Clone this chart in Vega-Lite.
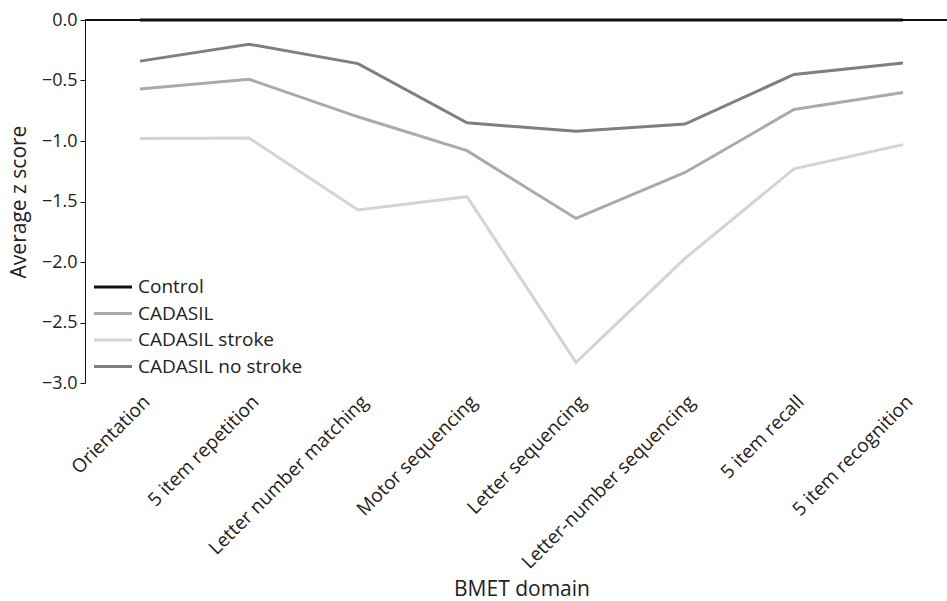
{
  "$schema": "https://vega.github.io/schema/vega-lite/v6.json",
  "width": 862,
  "height": 363,
  "autosize": {"type": "none"},
  "padding": {"left": 85, "top": 20, "right": 0, "bottom": 218},
  "background": "white",
  "config": {
    "view": {"stroke": null},
    "font": "Open Sans",
    "axis": {"labelFont": "Open Sans", "titleFont": "Open Sans", "labelColor": "#222", "titleColor": "#222", "titleFontWeight": "normal", "grid": false}
  },
  "data": {
    "values": [
      {"domain": "Orientation", "group": "Control", "z": 0},
      {"domain": "5 item repetition", "group": "Control", "z": 0},
      {"domain": "Letter number matching", "group": "Control", "z": 0},
      {"domain": "Motor sequencing", "group": "Control", "z": 0},
      {"domain": "Letter sequencing", "group": "Control", "z": 0},
      {"domain": "Letter-number sequencing", "group": "Control", "z": 0},
      {"domain": "5 item recall", "group": "Control", "z": 0},
      {"domain": "5 item recognition", "group": "Control", "z": 0},
      {"domain": "Orientation", "group": "CADASIL", "z": -0.57},
      {"domain": "5 item repetition", "group": "CADASIL", "z": -0.49},
      {"domain": "Letter number matching", "group": "CADASIL", "z": -0.8},
      {"domain": "Motor sequencing", "group": "CADASIL", "z": -1.08},
      {"domain": "Letter sequencing", "group": "CADASIL", "z": -1.64},
      {"domain": "Letter-number sequencing", "group": "CADASIL", "z": -1.26},
      {"domain": "5 item recall", "group": "CADASIL", "z": -0.74},
      {"domain": "5 item recognition", "group": "CADASIL", "z": -0.6},
      {"domain": "Orientation", "group": "CADASIL stroke", "z": -0.98},
      {"domain": "5 item repetition", "group": "CADASIL stroke", "z": -0.975},
      {"domain": "Letter number matching", "group": "CADASIL stroke", "z": -1.57},
      {"domain": "Motor sequencing", "group": "CADASIL stroke", "z": -1.46},
      {"domain": "Letter sequencing", "group": "CADASIL stroke", "z": -2.83},
      {"domain": "Letter-number sequencing", "group": "CADASIL stroke", "z": -1.97},
      {"domain": "5 item recall", "group": "CADASIL stroke", "z": -1.23},
      {"domain": "5 item recognition", "group": "CADASIL stroke", "z": -1.03},
      {"domain": "Orientation", "group": "CADASIL no stroke", "z": -0.34},
      {"domain": "5 item repetition", "group": "CADASIL no stroke", "z": -0.2},
      {"domain": "Letter number matching", "group": "CADASIL no stroke", "z": -0.36},
      {"domain": "Motor sequencing", "group": "CADASIL no stroke", "z": -0.85},
      {"domain": "Letter sequencing", "group": "CADASIL no stroke", "z": -0.92},
      {"domain": "Letter-number sequencing", "group": "CADASIL no stroke", "z": -0.86},
      {"domain": "5 item recall", "group": "CADASIL no stroke", "z": -0.45},
      {"domain": "5 item recognition", "group": "CADASIL no stroke", "z": -0.355}
    ]
  },
  "layer": [
    {
      "mark": {"type": "rule", "color": "#111", "strokeWidth": 1.5},
      "encoding": {"y": {"datum": 0, "type": "quantitative"}}
    },
    {
      "mark": {"type": "line", "strokeWidth": 3},
      "encoding": {
        "x": {
          "field": "domain", "type": "ordinal", "sort": null,
          "scale": {"type": "point", "range": [55, 818], "padding": 0},
          "axis": {"title": "BMET domain", "orient": "bottom", "domain": false, "ticks": false, "labelAngle": -45, "labelFontSize": 19, "labelLimit": 400, "labelPadding": 9, "titleFontSize": 21, "titlePadding": 6}
        },
        "y": {
          "field": "z", "type": "quantitative",
          "scale": {"domain": [-3, 0], "nice": false, "zero": false},
          "axis": {"title": "Average z score", "values": [0, -0.5, -1, -1.5, -2, -2.5, -3], "format": ".1f", "labelFontSize": 18, "titleFontSize": 21, "domainColor": "#111", "tickColor": "#111", "tickSize": 5, "labelPadding": 3, "titlePadding": 12}
        },
        "color": {
          "field": "group", "type": "nominal",
          "scale": {"domain": ["Control", "CADASIL", "CADASIL stroke", "CADASIL no stroke"], "range": ["#111111", "#aaaaaa", "#d4d4d4", "#7f7f7f"]},
          "legend": {"title": null, "orient": "none", "legendX": 17, "legendY": 256, "symbolType": "M-2,0H2", "symbolSize": 361, "symbolStrokeWidth": 3, "labelFontSize": 19, "labelLimit": 400, "labelFont": "Open Sans", "labelColor": "#222", "rowPadding": 5.5, "labelOffset": 14}
        }
      }
    }
  ]
}
